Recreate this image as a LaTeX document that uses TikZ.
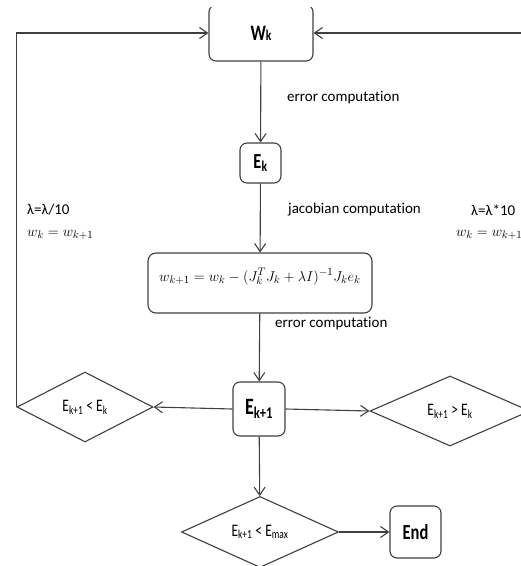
\documentclass[tikz,border=0pt]{standalone}
\usepackage{graphicx}
\usepackage{fontspec}
\setmainfont{Carlito}[Ligatures=NoCommon]
\usetikzlibrary{arrows.meta,shapes.geometric,positioning}

\definecolor{linegray}{HTML}{404040}
\newcommand{\tallbox}[1]{\scalebox{1}[1.3]{#1}}

\tikzset{
  box/.style={draw=linegray, line width=1.1pt, rounded corners=7pt, fill=white, inner sep=0pt},
  cond/.style={diamond, draw=linegray, line width=1.1pt, inner sep=0pt, fill=white,
    font=\fontsize{13.5}{16}\selectfont},
  flow/.style={draw=linegray, line width=1.1pt, -{Straight Barb[length=8pt,width=11pt]}},
  note/.style={anchor=west, inner sep=0pt, font=\fontsize{15}{18}\selectfont},
}

\begin{document}
\begin{tikzpicture}[x=1pt,y=-1pt]

      % page size of the reference, top strip left blank
      \useasboundingbox (0,0) rectangle (521,566);
      \clip (0,7) rectangle (521,566);

      % boxes down the middle
      \node[box, minimum width=104pt, minimum height=56pt] (wk) at (261,33)
        {\bfseries{\fontsize{17}{18}\selectfont \tallbox{W}}{\fontsize{11.5}{13}\selectfont \tallbox{k}}};
      \node[box, minimum width=41pt, minimum height=40pt] (ek) at (260.5,163)
        {\fontsize{16.5}{18}\selectfont\tallbox{\bfseries E\textsubscript{k}}};
      \node[box, minimum width=224pt, minimum height=60pt, rounded corners=8pt,
        text height=12pt, text depth=16pt, font=\fontsize{15}{18}\selectfont] (upd) at (260,283)
        {$w_{k+1} = w_k - (J_k^T J_k + \lambda I)^{-1} J_k e_k$};
      \node[box, minimum width=52pt, minimum height=54pt] (ek1) at (259,409)
        {\fontsize{18}{20}\selectfont\tallbox{\bfseries E\textsubscript{k+1}}};

      % the three tests
      \node[cond, minimum width=136pt, minimum height=70pt] (lt) at (85,407)
        {\tallbox{E\textsubscript{k+1} < E\textsubscript{k}}};
      \node[cond, minimum width=160pt, minimum height=70pt] (gt) at (450,411)
        {\tallbox{E\textsubscript{k+1} > E\textsubscript{k}}};
      \node[cond, minimum width=157pt, minimum height=70pt] (stop) at (260,532)
        {\tallbox{E\textsubscript{k+1} < E\textsubscript{max}}};
      \node[box, minimum width=51pt, minimum height=52pt] (end) at (415.5,532)
        {\fontsize{16.5}{18}\selectfont\tallbox{\bfseries End}};

      % arrows
      \draw[flow] (wk) -- (ek);
      \draw[flow] (ek) -- (upd);
      \draw[flow] (upd) -- (ek1);
      \draw[flow] (ek1.west) -- (lt.east);
      \draw[flow] (ek1.east) -- (gt.west);
      \draw[flow] (ek1) -- (stop);
      \draw[flow] (stop) -- (end);
      \draw[flow] (lt.west) |- (wk.west);
      \draw[flow] (gt.east) |- (wk.east);

      % texts beside the arrows
      \node[note] (err1) at (287,98) {error computation};
      \node[note] (jac) at (288,210) {jacobian computation};
      \node[note] (err2) at (275,324) {error computation};
      \node[note] (dec) at (27,210) {λ=λ/10};
      \node[note] (decw) at (27,235) {$w_k = w_{k+1}$};
      \node[note] (inc) at (471,210) {λ=λ*10};
      \node[note] (incw) at (456,235) {$w_k = w_{k+1}$};

    \end{tikzpicture}
\end{document}
